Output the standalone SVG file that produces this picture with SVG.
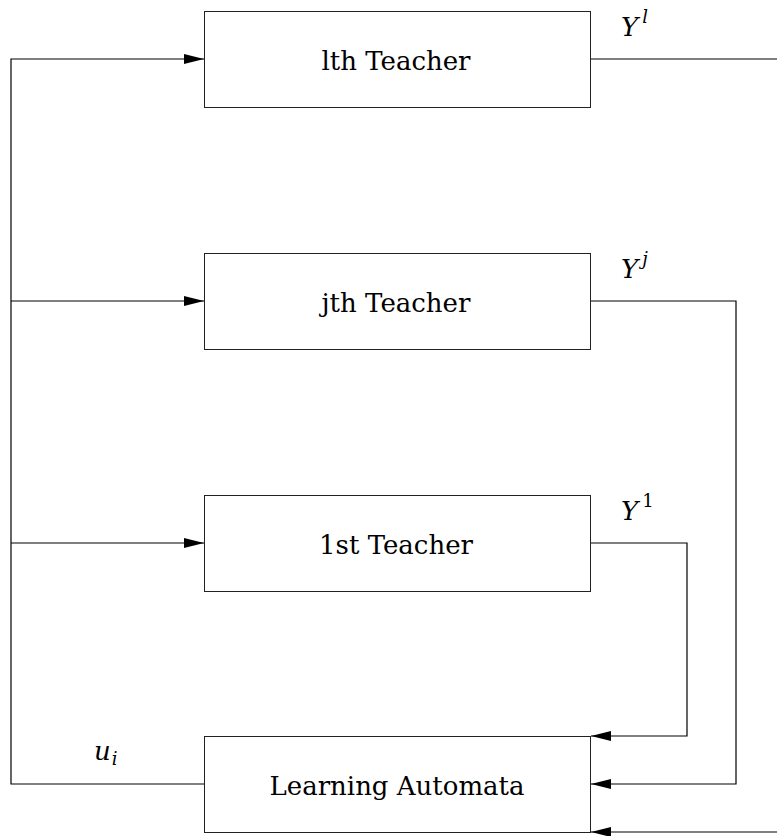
<svg xmlns="http://www.w3.org/2000/svg" width="777" height="836" viewBox="0 0 777 836">
<style>
.box{fill:#fff;stroke:#222;stroke-width:1}
.ln{fill:none;stroke:#000;stroke-width:1.2}
text{font-family:'DejaVu Serif','Liberation Serif',serif;fill:#000}
.t{font-size:26px;text-anchor:middle}
.m{font-style:italic;font-size:26px}
.s{font-size:18px}
</style>
<defs>
<marker id="ar" markerWidth="20" markerHeight="10" refX="20" refY="5" orient="auto" markerUnits="userSpaceOnUse">
<path d="M0,0 L20,5 L0,10 Z" fill="#000"/>
</marker>
</defs>
<g id="connectors">
<path class="ln" d="M204,784 H11 V59 H204" marker-end="url(#ar)"/>
<path class="ln" d="M11,301 H204" marker-end="url(#ar)"/>
<path class="ln" d="M11,543 H204" marker-end="url(#ar)"/>
<path class="ln" d="M591,59 H777"/>
<path class="ln" d="M777,832 H591" marker-end="url(#ar)"/>
<path class="ln" d="M591,301 H736 V784 H591" marker-end="url(#ar)"/>
<path class="ln" d="M591,543 H687 V736 H591" marker-end="url(#ar)"/>
</g>
<g id="lth">
<rect class="box" x="204.5" y="11.5" width="386" height="96"/>
<text class="t" x="396" y="70">lth Teacher</text>
</g>
<g id="jth">
<rect class="box" x="204.5" y="253.5" width="386" height="96"/>
<text class="t" x="396" y="312">jth Teacher</text>
</g>
<g id="first">
<rect class="box" x="204.5" y="495.5" width="386" height="96"/>
<text class="t" x="396" y="554">1st Teacher</text>
</g>
<g id="la">
<rect class="box" x="204.5" y="736.5" width="386" height="96"/>
<text class="t" x="397" y="795">Learning Automata</text>
</g>
<g id="labels">
<text class="m" x="621" y="36">Y<tspan class="s" dy="-13" dx="4">l</tspan></text>
<text class="m" x="621" y="278">Y<tspan class="s" dy="-13" dx="4">j</tspan></text>
<text class="m" x="621" y="520">Y<tspan class="s" dy="-13" dx="4" font-style="normal">1</tspan></text>
<text class="m" x="94" y="760">u<tspan class="s" dy="5" dx="1">i</tspan></text>
</g>
</svg>
